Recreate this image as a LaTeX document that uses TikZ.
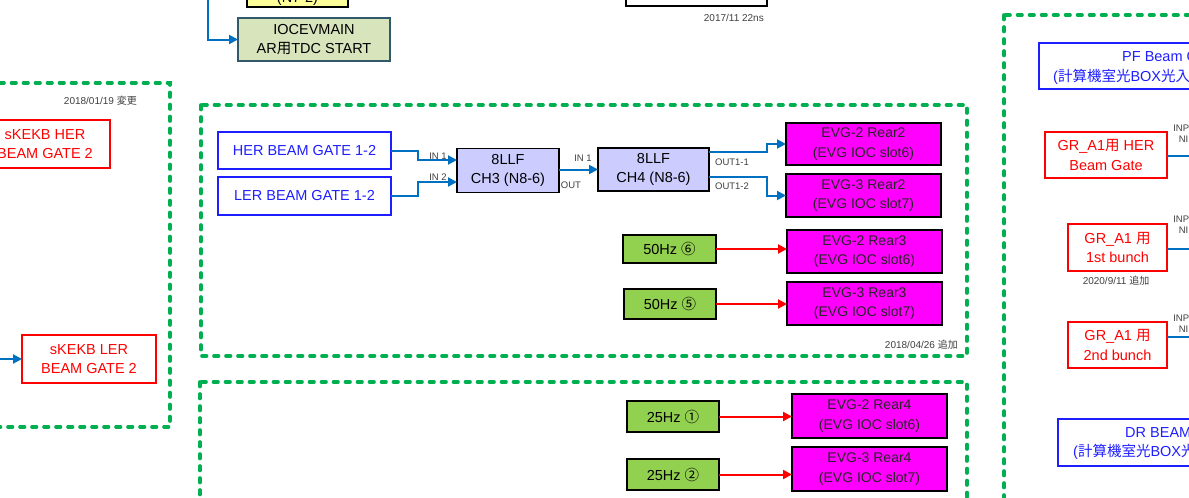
\documentclass[tikz,border=0pt]{standalone}
\usepackage{fontspec}
\setmainfont{Liberation Sans}
\newfontfamily\jpf{Noto Sans CJK JP}
\usetikzlibrary{arrows.meta}
\definecolor{myblue}{RGB}{30,30,255}
\definecolor{wireblue}{RGB}{0,112,192}
\definecolor{grpgreen}{RGB}{0,176,80}
\definecolor{lav}{RGB}{204,204,255}
\definecolor{hzgreen}{RGB}{146,208,80}
\definecolor{evgmag}{RGB}{255,0,255}
\definecolor{yel}{RGB}{255,255,153}
\definecolor{iocfill}{RGB}{216,228,188}
\definecolor{iocdraw}{RGB}{49,89,107}
\definecolor{lblgray}{RGB}{64,64,64}
\newcommand\dgBoxFont{\fontsize{14.5}{19.5}\selectfont}
\newcommand\dgEvgFont{\fontsize{14}{19.5}\selectfont}
\newcommand\dgLblFont{\fontsize{10}{12}\selectfont}
\newcommand\dgPinFont{\fontsize{9.5}{11}\selectfont}
\tikzset{
  box/.style={draw, line width=1.7pt, inner sep=0pt, outer sep=0pt, align=center, font=\dgBoxFont},
  bluebox/.style={box, draw=myblue, text=myblue, fill=white},
  redbox/.style={box, draw=red, text=red, fill=white},
  evgbox/.style={box, draw=black, fill=evgmag, text=black!85, font=\dgEvgFont},
  llfbox/.style={box, draw=black, fill=lav},
  hzbox/.style={box, draw=black, fill=hzgreen},
  grp/.style={draw=grpgreen, line width=3.6pt, dash pattern=on 4.5pt off 7.5pt, line cap=round},
  wire/.style={draw=wireblue, line width=2pt, -{Triangle[length=9pt,width=9pt]}},
  plainwire/.style={draw=wireblue, line width=1.8pt},
  redwire/.style={draw=red, line width=2pt, -{Triangle[length=9pt,width=9pt]}},
  lbl/.style={font=\dgLblFont, text=lblgray, inner sep=0pt},
  pin/.style={font=\dgPinFont, text=lblgray, inner sep=0pt, align=center},
}
\begin{document}
\begin{tikzpicture}[x=1pt,y=-1pt]
\useasboundingbox (0,0) rectangle (1189,498);
\clip (0,0) rectangle (1189,498);
\fill[white] (0,0) rectangle (1189,498);

% ---------- top area ----------
\node[box, draw=black, fill=yel, minimum width=101, minimum height=38] (yelbox) at (297.5,-12) {};
\node[font=\dgBoxFont, anchor=base, inner sep=0pt] (yeltxt) at (297.5,2) {(N7-2)};
\node[box, draw=iocdraw, fill=iocfill, minimum width=152, minimum height=43] (ioc) at (314,39.5) {IOCEVMAIN\\AR{\jpf 用}TDC START};
\coordinate (topin) at (208,-5);
\draw[wire] (topin) |- (ioc.west);

\node[box, draw=black, fill=white, minimum width=141, minimum height=40] (topbox) at (696.5,-14) {};
\node[lbl, anchor=east] (d2017) at (764,18) {2017/11 22ns};

% ---------- left group ----------
\draw[grp] (-20,83) rectangle (170,427);
\node[lbl, anchor=east] (d2018a) at (137,101) {2018/01/19 {\jpf 変更}};
\node[redbox, minimum width=130, minimum height=48] (skher) at (45,144) {sKEKB HER\\BEAM GATE 2};
\node[redbox, minimum width=134, minimum height=48] (skler) at (89,359) {sKEKB LER\\BEAM GATE 2};
\coordinate (lerin) at (-10,359);
\draw[wire] (lerin) -- (skler.west);

% ---------- middle upper group ----------
\draw[grp] (201,105) rectangle (967,356);
\node[bluebox, minimum width=173, minimum height=37] (herg) at (304.5,150.5) {HER BEAM GATE 1-2};
\node[bluebox, minimum width=173, minimum height=38] (lerg) at (304.5,196) {LER BEAM GATE 1-2};
\node[llfbox, minimum width=102, minimum height=44] (ch3) at (508,170.5) {8LLF\\CH3 (N8-6)};
\node[llfbox, minimum width=111, minimum height=43] (ch4) at (653.5,169.5) {8LLF\\CH4 (N8-6)};
\node[evgbox, minimum width=155, minimum height=42] (e2r2) at (863.5,144) {EVG-2 Rear2\\(EVG IOC slot6)};
\node[evgbox, minimum width=155, minimum height=43] (e3r2) at (863.5,195.5) {EVG-3 Rear2\\(EVG IOC slot7)};
\node[hzbox, minimum width=93, minimum height=28] (hz6) at (669.5,249) {50Hz {\jpf ⑥}};
\node[hzbox, minimum width=92, minimum height=30] (hz5) at (670,304) {50Hz {\jpf ⑤}};
\node[evgbox, minimum width=155, minimum height=43] (e2r3) at (864.5,251.5) {EVG-2 Rear3\\(EVG IOC slot6)};
\node[evgbox, minimum width=155, minimum height=43] (e3r3) at (864.5,303.5) {EVG-3 Rear3\\(EVG IOC slot7)};

\draw[wire] (herg.east) -- ++(27,0) |- ([yshift=10.5pt]ch3.west);
\draw[wire] (lerg.east) -- ++(27,0) |- ([yshift=-11.5pt]ch3.west);
\draw[wire] (ch3.east |- ch4.west) -- (ch4.west);
\draw[wire] ([yshift=17.5pt]ch4.east) -- ++(58,0) |- (e2r2.west);
\draw[wire] ([yshift=-7.5pt]ch4.east) -- ++(58,0) |- (e3r2.west);
\draw[redwire] (hz6.east) -- (hz6.east -| e2r3.west);
\draw[redwire] (hz5.east) -- (hz5.east -| e3r3.west);

\node[pin] (in1a) at (438,156) {IN 1};
\node[pin] (in2a) at (438,177) {IN 2};
\node[pin] (in1b) at (583,158) {IN 1};
\node[pin] (outa) at (571,185) {OUT};
\node[pin] (o11) at (732,162) {OUT1-1};
\node[pin] (o12) at (732,186) {OUT1-2};
\node[lbl, anchor=east] (d2018b) at (958,345) {2018/04/26 {\jpf 追加}};

% ---------- middle lower group ----------
\draw[grp] (200,382) rectangle (967,530);
\node[hzbox, minimum width=92, minimum height=31] (hz1) at (673,416.5) {25Hz {\jpf ①}};
\node[hzbox, minimum width=92, minimum height=31] (hz2) at (673,474.5) {25Hz {\jpf ②}};
\node[evgbox, minimum width=155, minimum height=44] (e2r4) at (869.5,416) {EVG-2 Rear4\\(EVG IOC slot6)};
\node[evgbox, minimum width=155, minimum height=44] (e3r4) at (869.5,469) {EVG-3 Rear4\\(EVG IOC slot7)};
\draw[redwire] (hz1.east) -- (hz1.east -| e2r4.west);
\draw[redwire] (hz2.east) -- (hz2.east -| e3r4.west);

% ---------- right group ----------
\draw[grp] (1004,15) rectangle (1260,530);
\node[bluebox, minimum width=261, minimum height=46] (pfbox) at (1169.5,66) {};
\node[font=\dgBoxFont, text=myblue, anchor=west, inner sep=0pt] (pft1) at (1122,57) {PF Beam Gate};
\node[font=\dgBoxFont, text=myblue, anchor=west, inner sep=0pt] (pft2) at (1053,77) {({\jpf 計算機室光}BOX{\jpf 光入力})};

\node[redbox, minimum width=122, minimum height=46] (grher) at (1106,155) {GR\_A1{\jpf 用} HER\\Beam Gate};
\node[redbox, minimum width=99, minimum height=47] (gr1) at (1117.5,247.5) {GR\_A1 {\jpf 用}\\1st bunch};
\node[redbox, minimum width=99, minimum height=46] (gr2) at (1117.5,345) {GR\_A1 {\jpf 用}\\2nd bunch};
\coordinate (grherR) at (1200,156);
\coordinate (gr1R) at (1200,249);
\coordinate (gr2R) at (1200,337);
\draw[plainwire] (grher.east |- grherR) -- (grherR);
\draw[plainwire] (gr1.east |- gr1R) -- (gr1R);
\draw[plainwire] (gr2.east |- gr2R) -- (gr2R);
\node[pin] (p1) at (1187.5,134) {INPUT\\NIM};
\node[pin] (p2) at (1187.5,225) {INPUT\\NIM};
\node[pin] (p3) at (1187.5,324) {INPUT\\NIM};
\node[lbl] (d2020) at (1116,281) {2020/9/11 {\jpf 追加}};

\node[bluebox, minimum width=242, minimum height=47] (drbox) at (1179,442.5) {};
\node[font=\dgBoxFont, text=myblue, anchor=west, inner sep=0pt] (drt1) at (1125,433) {DR BEAM GATE};
\node[font=\dgBoxFont, text=myblue, anchor=west, inner sep=0pt] (drt2) at (1073,452) {({\jpf 計算機室光}BOX{\jpf 光入力})};
\end{tikzpicture}
\end{document}
